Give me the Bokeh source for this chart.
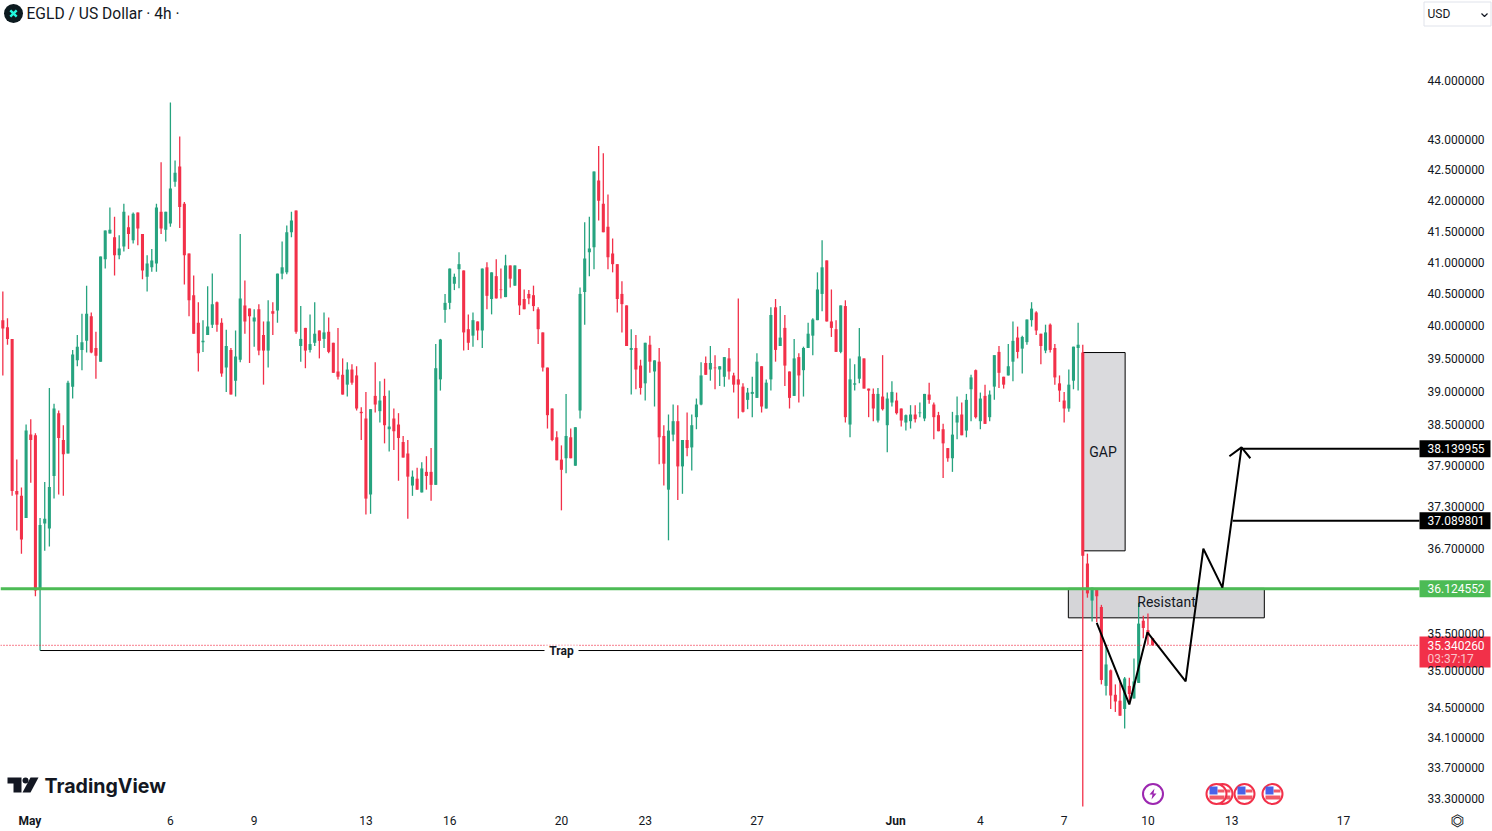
import math
from bokeh.plotting import figure
from bokeh.models import ColumnDataSource, FixedTicker, NumeralTickFormatter, Range1d, Label
from bokeh.embed import file_html
from bokeh.resources import INLINE

highs = [40.54,40.12,39.80,37.98,37.57,38.50,38.58,38.37,37.13,37.65,
39.05,38.81,38.71,38.49,39.16,39.63,39.86,40.19,40.63,40.21,
39.91,41.09,41.51,41.88,41.73,41.43,41.94,41.75,41.80,41.80,
41.45,41.11,41.21,41.94,42.62,41.81,43.62,42.65,43.05,41.97,
41.14,40.79,40.37,40.09,40.62,40.82,40.38,40.12,39.94,39.66,
39.93,41.45,40.71,40.27,40.26,40.34,40.07,40.40,40.37,40.82,
41.33,41.59,41.81,41.83,40.31,39.97,40.18,40.37,39.93,40.21,
40.13,39.74,39.97,39.50,39.44,39.41,39.38,38.76,38.99,38.73,
39.44,39.15,39.19,39.01,38.74,38.67,38.33,38.27,37.82,37.86,
37.94,38.03,38.15,39.72,39.80,40.50,40.90,40.82,41.16,40.87,
40.18,40.21,40.07,40.90,41.00,40.84,41.05,40.90,41.12,40.95,
40.95,40.89,40.57,40.56,40.63,40.29,39.90,39.36,38.74,38.40,
38.19,38.96,38.44,38.46,40.60,41.64,41.73,42.47,42.89,42.77,
42.09,41.38,40.97,40.70,40.32,39.95,39.86,39.48,39.74,39.85,
39.47,39.66,38.49,38.65,38.80,38.79,38.27,38.68,38.65,38.89,
39.44,39.53,39.69,39.55,39.38,39.52,39.66,39.28,40.43,39.12,
39.05,39.22,39.58,39.38,39.18,40.29,40.42,40.31,40.17,39.30,
39.80,39.58,39.68,40.05,40.12,40.84,41.35,41.03,40.57,40.09,
40.32,40.40,39.50,39.41,39.97,39.50,39.04,39.04,39.05,39.55,
38.98,39.15,38.98,38.74,38.65,38.79,38.79,38.83,38.96,39.13,
38.83,38.69,38.51,38.15,38.69,38.92,38.83,38.96,39.25,39.33,
38.98,39.10,39.01,39.55,39.69,39.22,39.72,40.07,39.99,39.85,
40.10,40.37,40.23,39.88,40.02,40.04,39.72,39.24,38.99,39.33,
39.68,40.05,39.71,36.62,36.14,36.11,35.90,35.35,35.01,34.81,
34.86,34.91,34.90,35.16,35.93,35.75,35.78,35.44]

lows = [39.24,39.71,37.45,36.95,36.62,37.13,37.64,36.02,35.27,36.66,
36.72,37.41,37.47,37.45,38.07,38.89,39.38,39.32,39.59,39.58,
39.19,39.45,40.90,41.46,40.79,41.05,41.17,41.21,41.30,41.27,
40.73,40.54,40.85,40.85,41.45,41.33,41.57,42.22,41.55,40.65,
40.15,39.88,39.30,39.60,39.86,39.97,39.91,39.22,38.99,38.95,
38.92,39.44,39.88,39.43,39.68,39.55,39.10,39.36,39.86,40.05,
40.73,40.81,41.40,39.88,39.45,39.35,39.59,39.69,39.50,39.66,
39.58,39.28,39.18,38.95,38.92,39.10,38.71,38.27,37.18,37.19,
38.68,38.53,38.22,38.10,38.12,37.67,38.01,37.12,37.45,37.54,
37.50,37.54,37.38,37.61,39.01,40.05,40.26,40.56,40.59,39.62,
39.63,39.68,39.78,39.66,40.26,40.18,40.43,40.43,40.45,40.60,
40.63,40.17,40.26,40.34,40.23,39.72,39.30,38.44,38.25,37.97,
37.24,37.78,38.00,37.89,38.59,40.02,40.78,40.89,41.67,41.48,
40.89,40.84,40.21,39.90,39.69,38.95,39.03,38.95,38.86,39.28,
38.77,37.91,37.60,36.81,38.25,37.39,37.48,38.03,37.82,38.43,
38.79,39.25,39.16,39.03,39.08,39.07,39.18,38.98,38.59,38.68,
38.73,38.61,38.90,38.68,38.74,39.01,39.45,39.69,39.08,38.74,
38.93,38.83,38.92,39.66,39.55,40.09,40.23,40.07,39.83,39.60,
39.58,38.53,38.31,39.01,39.12,39.04,38.61,38.55,38.53,38.71,
38.09,38.77,38.65,38.47,38.41,38.44,38.53,38.61,38.55,38.81,
38.28,38.40,37.71,37.95,37.80,38.28,38.34,38.31,38.55,38.59,
38.43,38.51,38.55,38.87,39.05,39.04,39.24,39.15,39.50,39.27,
39.71,39.99,39.86,39.41,39.58,39.59,39.10,38.84,38.53,38.69,
39.03,39.01,33.20,36.00,35.67,35.66,34.81,34.66,34.48,34.44,
34.39,34.22,34.56,34.62,34.83,35.44,35.35,35.34]

opens = [40.09,39.98,39.80,37.52,37.45,37.13,38.35,38.34,36.11,37.05,
36.98,37.74,38.67,38.27,38.07,39.07,39.47,39.63,39.77,40.15,
39.66,39.45,41.05,41.46,41.40,41.11,41.25,41.56,41.35,41.80,
41.45,40.77,40.92,40.98,41.81,41.52,41.62,42.30,42.55,41.94,
41.14,40.48,40.05,39.75,39.86,40.02,40.37,40.05,39.36,39.63,
39.16,39.48,40.32,40.27,40.07,40.26,39.86,39.62,40.23,40.24,
40.82,40.84,41.48,41.83,39.69,39.97,39.63,39.74,39.93,39.80,
39.91,39.74,39.30,39.25,39.10,39.33,39.24,38.69,38.59,37.47,
38.93,38.70,38.93,38.43,38.59,38.50,38.24,38.07,37.60,37.70,
37.50,37.80,37.80,37.61,39.18,40.25,40.36,40.66,40.89,40.87,
39.95,39.85,40.07,39.93,40.92,40.42,40.78,40.57,40.45,40.95,
40.63,40.89,40.42,40.50,40.48,40.26,39.90,39.36,38.74,38.31,
37.98,38.00,38.31,37.89,38.71,40.53,41.16,41.24,42.32,41.94,
41.57,41.14,40.97,40.50,40.32,39.63,39.66,39.39,39.12,39.71,
39.30,39.45,38.33,37.54,38.35,38.55,37.88,38.27,38.16,38.61,
38.80,39.43,39.33,39.36,39.33,39.22,39.50,39.24,39.18,39.07,
38.87,38.96,38.90,39.38,38.74,39.18,40.29,39.69,39.97,39.30,
38.93,39.52,39.32,39.66,39.85,40.09,40.50,41.03,40.07,39.95,
39.60,40.31,38.50,39.10,39.19,39.50,39.04,38.96,38.56,38.92,
38.49,38.83,38.86,38.74,38.53,38.55,38.65,38.67,38.59,38.95,
38.80,38.64,38.43,38.15,38.00,38.53,38.65,38.41,39.03,39.32,
38.55,38.93,38.61,39.07,39.60,39.22,39.24,39.45,39.82,39.65,
39.75,40.09,40.21,39.88,39.62,40.02,39.66,39.12,38.86,38.74,
39.16,39.66,39.59,36.48,35.96,36.11,35.87,34.79,35.00,34.67,
34.59,34.48,34.79,34.62,34.83,35.68,35.55,35.44]

closes = [39.96,39.80,37.52,37.47,36.82,38.41,38.27,36.10,37.03,37.12,
37.58,38.74,38.30,38.06,39.13,39.56,39.68,39.75,40.19,39.59,
39.54,41.09,41.51,41.52,41.11,41.22,41.81,41.45,41.78,41.54,
40.87,40.98,41.03,41.88,41.54,41.81,42.19,42.45,41.89,41.11,
40.40,39.88,39.58,39.77,39.99,40.34,40.02,39.27,39.69,38.95,
39.53,40.43,40.07,40.15,40.13,39.62,39.62,40.07,40.19,40.82,
40.92,41.48,41.67,39.91,39.80,39.62,39.72,39.88,39.77,39.90,
39.60,39.28,39.22,38.95,39.33,39.13,38.74,38.67,37.41,38.73,
38.80,38.86,38.49,38.47,38.40,38.30,38.01,37.73,37.73,37.54,
37.85,37.74,37.61,39.35,39.79,40.36,40.90,40.77,40.97,39.90,
39.74,40.09,39.93,40.90,40.47,40.84,40.43,40.56,40.95,40.74,
40.95,40.32,40.26,40.43,40.31,39.95,39.36,38.64,38.27,37.97,
37.83,38.33,38.00,38.46,40.50,41.06,41.22,42.47,41.99,41.48,
41.08,40.97,40.42,40.34,39.69,39.66,39.33,39.05,39.74,39.45,
39.47,38.31,37.92,38.41,38.55,37.88,38.27,38.15,38.49,38.80,
39.24,39.25,39.43,39.35,39.38,39.52,39.30,39.10,39.10,38.69,
38.98,38.99,39.45,38.77,39.13,40.17,39.63,39.82,39.39,38.90,
39.50,39.24,39.66,39.88,40.10,40.57,40.92,40.07,39.97,39.60,
40.32,38.61,39.18,39.12,39.53,39.04,39.01,38.74,38.96,38.73,
38.89,38.99,38.67,38.56,38.64,38.65,38.58,38.68,38.96,38.87,
38.61,38.40,38.22,38.00,38.35,38.64,38.34,38.87,39.21,38.61,
38.89,38.51,38.95,39.55,39.28,39.10,39.38,39.77,39.60,39.83,
40.10,40.27,39.93,39.69,39.90,39.63,39.21,39.01,38.74,39.10,
39.68,39.71,36.59,36.06,36.14,36.02,34.87,35.08,34.66,34.58,
34.39,34.89,34.68,34.85,35.64,35.58,35.48,35.34]

price_ticks = [44, 43, 42.5, 42, 41.5, 41, 40.5, 40, 39.5, 39, 38.5, 37.9, 37.3, 36.7, 35.5, 35, 34.5, 34.1, 33.7, 33.3]
date_ticks = [6, 36, 54, 78, 96, 120, 138, 162, 192, 210, 228, 246, 264, 288]
date_labels = ["May", "6", "9", "13", "16", "20", "23", "27", "Jun", "4", "7", "10", "13", "17"]

support_level = 36.124552
last_price = 35.340260
target_high = 38.139955
target_low = 37.089801
trap_price = 35.27
trap_span = [8, 232]
gap_span = [232, 241.1]
gap_prices = [39.59, 36.66]
resist_span = [228.9, 271]
resist_prices = [36.13, 35.72]
path_x = [235.0, 242.0, 245.9, 254.1, 257.9, 262.0, 266.1]
path_y = [35.65, 34.54, 35.52, 34.85, 36.69, 36.14, 38.16]
head_x = [263.5, 266.1, 268.0]
head_y = [38.03, 38.16, 38.00]
target_starts = [266.1, 264.2]

GREEN = "#26a37f"
RED = "#f23049"
TEXT = "#131722"
FH = 831
FW = 1492
AXIS_PX = 1419
X0, X1 = -0.5, 320.02
X_END = 304.33
Y_LO, Y_HI = 32.88, 45.38


def xd(px):
    return X0 + px / FW * (X1 - X0)


def yd(py):
    return math.exp(math.log(Y_HI) - py / FH * (math.log(Y_HI) - math.log(Y_LO)))


def py(price):
    return (math.log(Y_HI) - math.log(price)) / (math.log(Y_HI) - math.log(Y_LO)) * FH


n = len(opens)
assert n == len(closes) == len(highs) == len(lows)
idx = list(range(n))
colors = [GREEN if c >= o else RED for o, c in zip(opens, closes)]
src = ColumnDataSource(dict(x=idx, o=opens, c=closes, h=highs, l=lows,
                            top=[max(a, b) for a, b in zip(opens, closes)],
                            bot=[min(a, b) for a, b in zip(opens, closes)],
                            color=colors))

p = figure(width=FW, height=FH, output_backend="svg", toolbar_location=None,
           y_axis_type="log", y_axis_location="right",
           x_range=Range1d(X0, X1), y_range=Range1d(Y_LO, Y_HI),
           min_border_left=0, min_border_top=0, min_border_right=0, min_border_bottom=0)
p.outline_line_color = None
p.grid.visible = False
p.background_fill_color = "white"

ya = p.yaxis[0]
ya.ticker = FixedTicker(ticks=price_ticks)
ya.formatter = NumeralTickFormatter(format="0.000000")
ya.axis_line_color = None
ya.major_tick_line_color = None
ya.minor_tick_line_color = None
ya.major_tick_out = 0
ya.major_tick_in = 0
ya.minor_tick_out = 0
ya.minor_tick_in = 0
ya.major_label_text_font = "Roboto"
ya.major_label_text_font_size = "12px"
ya.major_label_text_color = TEXT
ya.major_label_standoff = -65

xa = p.xaxis[0]
xa.ticker = FixedTicker(ticks=date_ticks)
xa.major_label_overrides = {t: (" " if l in ("May", "Jun") else l) for t, l in zip(date_ticks, date_labels)}
xa.axis_line_color = None
xa.major_tick_line_color = None
xa.minor_tick_line_color = None
xa.major_tick_out = 0
xa.major_tick_in = 0
xa.minor_tick_out = 0
xa.minor_tick_in = 0
xa.major_label_text_font = "Roboto"
xa.major_label_text_font_size = "12px"
xa.major_label_text_color = TEXT
xa.major_label_standoff = -18

# boxes under the candles
p.quad(left=[gap_span[0]], right=[gap_span[1]], top=[gap_prices[0]], bottom=[gap_prices[1]],
       fill_color="#dadadd", line_color="black", line_width=1)
p.quad(left=[resist_span[0]], right=[resist_span[1]], top=[resist_prices[0]], bottom=[resist_prices[1]],
       fill_color="#d5d5d8", line_color="black", line_width=1)

p.line(trap_span, [trap_price, trap_price], line_color="black", line_width=1)

p.segment("x", "h", "x", "l", source=src, line_color="color", line_width=1.3)
p.vbar("x", width=0.66, top="top", bottom="bot", source=src, fill_color="color", line_color=None)

p.line([X0, X_END], [last_price, last_price], line_color=RED, line_width=1.2, line_dash="1 2")
p.line([X0, X_END], [support_level, support_level], line_color="#4cbb55", line_width=3)
p.line(path_x, path_y, line_color="black", line_width=2)
p.line(head_x, head_y, line_color="black", line_width=2)
p.line([target_starts[0], X_END], [target_high, target_high], line_color="black", line_width=2)
p.line([target_starts[1], X_END], [target_low, target_low], line_color="black", line_width=2)

# texts on the chart
p.add_layout(Label(x=sum(gap_span) / 2 - 0.2, y=yd(451), text="GAP", text_font="Roboto", text_font_size="14px",
                   text_color=TEXT, text_align="center", text_baseline="middle"))
p.add_layout(Label(x=xd(1166), y=yd(601.5), text="Resistant", text_font="Roboto", text_font_size="14px",
                   text_color=TEXT, text_align="center", text_baseline="middle"))
p.quad(left=[xd(544)], right=[xd(578)], top=[yd(645)], bottom=[yd(656)], fill_color="white", line_color=None)
p.add_layout(Label(x=xd(561), y=trap_price, text="Trap", text_font="Roboto", text_font_style="bold",
                   text_font_size="12px", text_color=TEXT, text_align="center", text_baseline="middle"))


# price tags
def tag(price, text, bg, up=8.5, down=8.5):
    c = py(price)
    p.quad(left=[xd(AXIS_PX)], right=[xd(1490)], top=[yd(c - up)], bottom=[yd(c + down)],
           fill_color=bg, line_color=None)
    p.add_layout(Label(x=1427, x_units="screen", y=price, text=text, text_font="Roboto",
                       text_font_size="12px", text_color="white", text_align="left",
                       text_baseline="middle"))


tag(target_high, "38.139955", "#000000")
tag(target_low, "37.089801", "#000000")
tag(support_level, "36.124552", "#4cbb55")
tag(last_price, "35.340260", RED, up=9, down=22)
p.add_layout(Label(x=1427, x_units="screen", y=yd(658.5), text="03:37:17", text_font="Roboto",
                   text_font_size="12px", text_color="#fbc4ca", text_align="left", text_baseline="middle"))

# header
p.scatter([xd(13)], [yd(13)], size=19, marker="circle", fill_color="#0c1a1f", line_color=None)
p.scatter([xd(13)], [yd(13)], size=9, marker="x", line_color="#23f7dd", line_width=2.4)
p.add_layout(Label(x=26, x_units="screen", y=FH - 13, y_units="screen", text="EGLD / US Dollar · 4h ·",
                   text_font="Roboto", text_font_size="15.6px", text_color=TEXT, text_baseline="middle"))
p.quad(left=[xd(1423.5)], right=[xd(1490.5)], top=[yd(1.5)], bottom=[yd(25.5)],
       fill_color="white", line_color="#e0e3eb", line_width=1)
p.add_layout(Label(x=1427, x_units="screen", y=FH - 13, y_units="screen", text="USD", text_font="Roboto",
                   text_font_size="12px", text_color=TEXT, text_baseline="middle"))
p.line([xd(1481), xd(1484), xd(1487)], [yd(13), yd(16), yd(13)], line_color=TEXT, line_width=1.2)

# watermark
p.patch([xd(v) for v in (7, 21, 21, 13, 13, 7)], [yd(v) for v in (777, 777, 792, 792, 783, 783)],
        fill_color=TEXT, line_color=None)
p.patch([xd(v) for v in (30, 38, 30, 22)], [yd(v) for v in (777, 777, 792, 792)],
        fill_color=TEXT, line_color=None)
p.scatter([xd(25)], [yd(780)], size=6, marker="circle", fill_color=TEXT, line_color=None)
p.add_layout(Label(x=44, x_units="screen", y=FH - 785, y_units="screen", text="TradingView", text_font="Inter",
                   text_font_style="bold", text_font_size="19.6px", text_color=TEXT, text_baseline="middle"))

# event icons
p.scatter([xd(1152.5)], [yd(793.5)], size=20, marker="circle", fill_color="white", line_color="#9c27b0", line_width=2)
p.patch([xd(v) for v in (1154, 1149, 1152, 1151, 1156, 1153)], [yd(v) for v in (788, 794, 794, 799, 793, 793)],
        fill_color="#9c27b0", line_color=None)
for cx in (1222, 1216, 1244, 1272):
    p.scatter([xd(cx)], [yd(793.5)], size=20, marker="circle", fill_color="white", line_color=RED, line_width=2)
    p.quad(left=[xd(cx + 1)], right=[xd(cx + 8)], top=[yd(789)], bottom=[yd(792)], fill_color="#f05a67", line_color=None)
    p.quad(left=[xd(cx - 7)], right=[xd(cx + 8)], top=[yd(795)], bottom=[yd(799)], fill_color="#f05a67", line_color=None)
    p.quad(left=[xd(cx - 7)], right=[xd(cx + 1)], top=[yd(786)], bottom=[yd(794)], fill_color="#4a62e8", line_color=None)

# month labels in bold, settings icon
for lab, tick in (("May", 5.8), ("Jun", 191.8)):
    p.add_layout(Label(x=tick, y=FH - 820, y_units="screen", text=lab, text_font="Roboto", text_font_style="bold",
                       text_font_size="12px", text_color=TEXT, text_align="center", text_baseline="middle"))
p.add_layout(Label(x=1457, x_units="screen", y=FH - 820, y_units="screen", text="⏣", text_font="DejaVu Sans",
                   text_font_size="16px", text_color=TEXT, text_align="center", text_baseline="middle"))

open("out.html", "w").write(file_html(p, INLINE))
